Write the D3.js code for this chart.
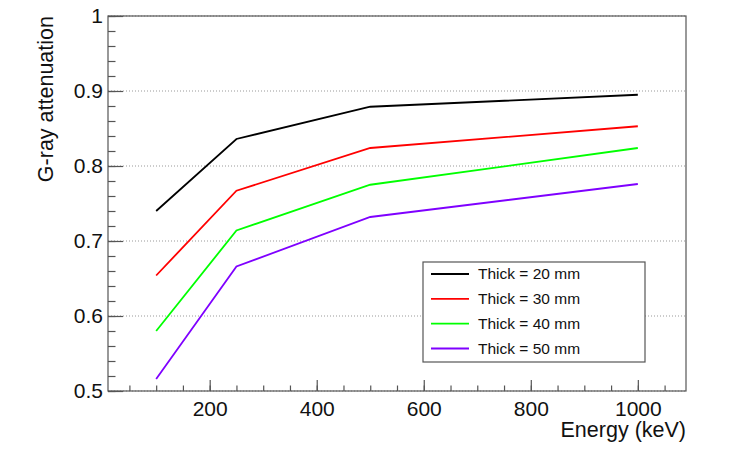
<!DOCTYPE html>
<html>
<head>
<meta charset="utf-8">
<script src="https://cdn.jsdelivr.net/npm/d3@7"></script>
<style>
  body { margin: 0; background: #fff; }
  text { font-family: "Liberation Sans", Arial, Helvetica, sans-serif; }
</style>
</head>
<body>
<div id="chart"></div>
<script>
// energies (keV)
var energies = [100, 250, 500, 1000];

// attenuation for each thickness
var thick20 = [0.740, 0.836, 0.879, 0.895];
var thick30 = [0.654, 0.767, 0.824, 0.853];
var thick40 = [0.580, 0.714, 0.775, 0.824];
var thick50 = [0.516, 0.666, 0.732, 0.776];

var seriesNames = ["Thick = 20 mm", "Thick = 30 mm", "Thick = 40 mm", "Thick = 50 mm"];
var seriesColors = ["#000000", "#ff0000", "#00ff00", "#7f00ff"];
var seriesValues = [thick20, thick30, thick40, thick50];

var xTicks = [200, 400, 600, 800, 1000];
var yTicks = [0.5, 0.6, 0.7, 0.8, 0.9, 1];

var W = 742, H = 463;
var frame = {left: 108, right: 686, top: 16, bottom: 391};

var svg = d3.select("#chart")
  .append("svg")
    .attr("width", W)
    .attr("height", H);

var x = d3.scaleLinear().domain([10, 1090]).range([frame.left, frame.right]);
var y = d3.scaleLinear().domain([0.5, 1]).range([frame.bottom, frame.top]);

// horizontal grid
svg.append("g")
  .selectAll("line")
  .data(yTicks)
  .enter()
  .append("line")
    .attr("x1", frame.left)
    .attr("x2", frame.right)
    .attr("y1", function(d) { return y(d); })
    .attr("y2", function(d) { return y(d); })
    .attr("stroke", "#999")
    .attr("stroke-width", 1)
    .attr("stroke-dasharray", "1,2");

// frame
svg.append("rect")
  .attr("x", frame.left)
  .attr("y", frame.top)
  .attr("width", frame.right - frame.left)
  .attr("height", frame.bottom - frame.top)
  .attr("fill", "none")
  .attr("stroke", "#555")
  .attr("stroke-width", 1.2);

// minor ticks x
var xMinor = d3.range(50, 1090, 50);
svg.append("g")
  .attr("transform", "translate(0," + frame.bottom + ")")
  .call(d3.axisBottom(x).tickValues(xMinor).tickSize(-5.5).tickFormat(""))
  .call(function(g) { g.select(".domain").remove(); });

// major ticks x
var xAxis = svg.append("g")
  .attr("transform", "translate(0," + frame.bottom + ")")
  .call(d3.axisBottom(x).tickValues(xTicks).tickSize(-11).tickPadding(10).tickFormat(d3.format("d")));
xAxis.select(".domain").remove();

// minor ticks y
var yMinor = d3.range(0, 26).map(function(i) { return 0.5 + i * 0.02; });
svg.append("g")
  .attr("transform", "translate(" + frame.left + ",0)")
  .call(d3.axisLeft(y).tickValues(yMinor).tickSize(-7.5).tickFormat(""))
  .call(function(g) { g.select(".domain").remove(); });

// major ticks y
var yAxis = svg.append("g")
  .attr("transform", "translate(" + frame.left + ",0)")
  .call(d3.axisLeft(y).tickValues(yTicks).tickSize(-15).tickPadding(5).tickFormat(d3.format("")));
yAxis.select(".domain").remove();

svg.selectAll(".tick line").attr("stroke", "#555").attr("stroke-width", 1.2);
svg.selectAll(".tick text")
  .attr("font-size", 21)
  .attr("fill", "#111")
  .style("font-family", "Liberation Sans, Arial, sans-serif");

// axis titles
svg.append("text")
  .attr("x", frame.right)
  .attr("y", 437)
  .attr("text-anchor", "end")
  .attr("font-size", 21.5)
  .attr("fill", "#111")
  .text("Energy (keV)");

svg.append("text")
  .attr("transform", "translate(53," + frame.top + ") rotate(-90)")
  .attr("text-anchor", "end")
  .attr("font-size", 21.5)
  .attr("fill", "#111")
  .text("G-ray attenuation");

// lines
var line = d3.line()
  .x(function(d, i) { return x(energies[i]); })
  .y(function(d) { return y(d); });

seriesValues.forEach(function(vals, k) {
  svg.append("path")
    .datum(vals)
    .attr("d", line)
    .attr("fill", "none")
    .attr("stroke", seriesColors[k])
    .attr("stroke-width", 1.8);
});

// legend
var lg = svg.append("g");
lg.append("rect")
  .attr("x", 423)
  .attr("y", 262)
  .attr("width", 222)
  .attr("height", 100)
  .attr("fill", "#fff")
  .attr("stroke", "#555")
  .attr("stroke-width", 1.2);

var rowY = d3.scalePoint().domain(seriesNames).range([274, 348.5]);

seriesNames.forEach(function(name, k) {
  lg.append("line")
    .attr("x1", 431)
    .attr("x2", 469)
    .attr("y1", rowY(name))
    .attr("y2", rowY(name))
    .attr("stroke", seriesColors[k])
    .attr("stroke-width", 1.8);
  lg.append("text")
    .attr("x", 478)
    .attr("y", rowY(name))
    .attr("dy", "0.35em")
    .attr("font-size", 15.5)
    .attr("fill", "#111")
    .text(name);
});
</script>
</body>
</html>
